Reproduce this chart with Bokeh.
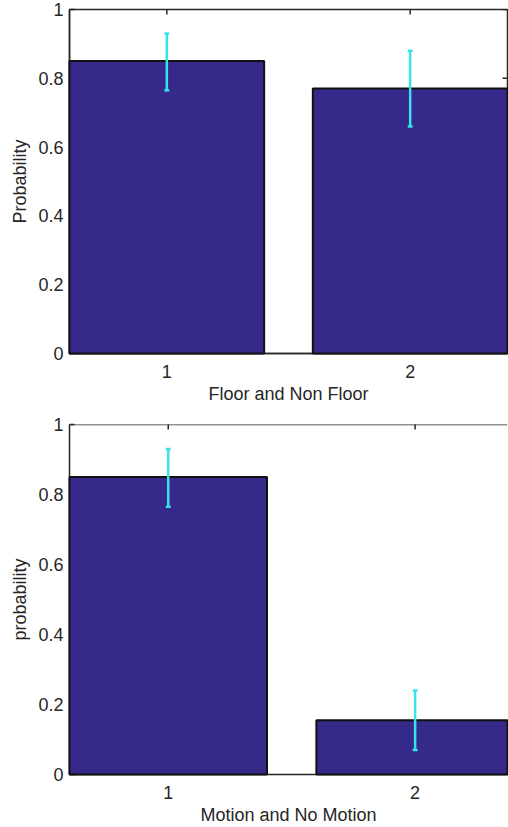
from math import pi

from bokeh.plotting import figure
from bokeh.layouts import column
from bokeh.models import FixedTicker, Range1d
from bokeh.embed import file_html
from bokeh.resources import INLINE

# Data
groups = [1, 2]
y_ticks = [0, 0.2, 0.4, 0.6, 0.8, 1]
y_tick_labels = ["0", "0.2", "0.4", "0.6", "0.8", "1"]

floor_prob = [0.85, 0.77]
floor_lo = [0.765, 0.66]
floor_hi = [0.93, 0.88]

motion_prob = [0.85, 0.155]
motion_lo = [0.765, 0.07]
motion_hi = [0.93, 0.24]

BAR_COLOR = "#35298a"
ERR_COLOR = "#37e3ea"
AX_COLOR = "#262626"
FONT = "Liberation Sans"


def style_axis(ax):
    ax.major_tick_in = 5
    ax.major_tick_out = 0
    ax.minor_tick_line_color = None
    ax.axis_line_color = AX_COLOR
    ax.axis_line_width = 1.5
    ax.major_tick_line_color = AX_COLOR
    ax.major_tick_line_width = 1.5
    ax.major_label_text_font = FONT
    ax.major_label_text_font_size = "18px"
    ax.major_label_text_color = AX_COLOR
    ax.axis_label_text_font = FONT
    ax.axis_label_text_font_size = "18px"
    ax.axis_label_text_font_style = "normal"
    ax.axis_label_text_color = AX_COLOR


def panel(probs, lo, hi, xlabel, ylabel, x_end, width, height,
          border_left, border_right, border_top, border_bottom, box_right):
    p = figure(width=width, height=height, output_backend="svg",
               toolbar_location=None,
               x_range=Range1d(0.6, x_end), y_range=Range1d(0, 1),
               min_border_left=border_left, min_border_right=border_right,
               min_border_top=border_top, min_border_bottom=border_bottom,
               background_fill_color="white", border_fill_color="white")
    p.grid.visible = False
    p.outline_line_color = AX_COLOR if box_right else None
    p.outline_line_width = 1.5

    p.xaxis.ticker = FixedTicker(ticks=groups)
    p.yaxis.ticker = FixedTicker(ticks=y_ticks)
    p.yaxis.major_label_overrides = {t: s for t, s in zip(y_ticks, y_tick_labels)}
    p.xaxis.axis_label = xlabel
    p.yaxis.axis_label = ylabel
    style_axis(p.xaxis[0])
    style_axis(p.yaxis[0])
    p.xaxis.major_label_standoff = 11
    p.xaxis.axis_label_standoff = 3
    p.yaxis.major_label_standoff = 6
    p.yaxis.axis_label_standoff = 5

    # top border line and inward tick marks on the upper / right edges
    if not box_right:
        p.segment(x0=[0.6], y0=[1], x1=[x_end], y1=[1],
                  line_color=AX_COLOR, line_width=1.5)
    p.scatter(x=groups, y=[1] * len(groups), marker="dash", size=10,
              angle=pi / 2, line_color=AX_COLOR, line_width=1.5)
    if box_right:
        p.scatter(x=[x_end] * len(y_ticks), y=y_ticks, marker="dash", size=10,
                  line_color=AX_COLOR, line_width=1.5)

    bars = p.vbar(x=groups, top=probs, width=0.8, bottom=0,
                  fill_color=BAR_COLOR, line_color="#111111", line_width=2)
    bars.level = "overlay"

    err = p.segment(x0=groups, y0=lo, x1=groups, y1=hi,
                    line_color=ERR_COLOR, line_width=2.5)
    err.level = "overlay"
    caps_x0 = [g - 0.01 for g in groups]
    caps_x1 = [g + 0.01 for g in groups]
    for ys in (lo, hi):
        cap = p.segment(x0=caps_x0, y0=ys, x1=caps_x1, y1=ys,
                        line_color=ERR_COLOR, line_width=2.5)
        cap.level = "overlay"
    return p


p1 = panel(floor_prob, floor_lo, floor_hi, "Floor and Non Floor", "Probability",
           2.4, 508, 410, 69, 1, 9, 57, True)
p2 = panel(motion_prob, motion_lo, motion_hi, "Motion and No Motion", "probability",
           0.6 + 440 / 248, 508, 417, 68, 0, 14, 52, False)

layout = column(p1, p2, spacing=0)
open("out.html", "w").write(file_html(layout, INLINE))
